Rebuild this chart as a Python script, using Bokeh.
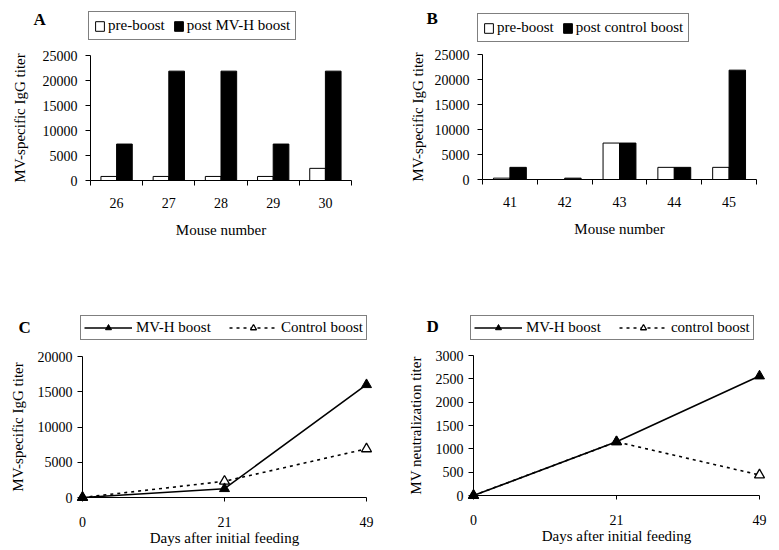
from bokeh.plotting import figure
from bokeh.models import (Range1d, LinearAxis, FixedTicker, SingleIntervalTicker,
                          Legend, LegendItem, Label, ColumnDataSource, NumeralTickFormatter)
from bokeh.layouts import row, column
from bokeh.transform import dodge
from bokeh.embed import file_html
from bokeh.resources import INLINE

FONT = "Liberation Serif"
NAN = float("nan")

# ---- data ----
mice_a = ["26", "27", "28", "29", "30"]
pre_a = [810, 810, 810, 810, 2430]
post_a = [7290, 21870, 21870, 7290, 21870]

mice_b = ["41", "42", "43", "44", "45"]
pre_b = [270, 0, 7290, 2430, 2430]
post_b = [2430, 270, 7290, 2430, 21870]

days = ["0", "21", "49"]
igg_mvh = [0, 1250, 16000]
igg_ctrl = [0, 2300, 6900]
neut_mvh = [0, 1150, 2560]
neut_ctrl = [0, 1150, 440]


def style_y(ax, label, interval):
    ax.ticker = SingleIntervalTicker(interval=interval, num_minor_ticks=0)
    ax.formatter = NumeralTickFormatter(format="0")
    ax.axis_label = label
    ax.axis_line_color = "black"
    ax.major_tick_out = 5
    ax.major_tick_in = 0
    ax.minor_tick_line_color = None
    ax.major_label_text_font = FONT
    ax.major_label_text_font_size = "14px"
    ax.major_label_text_color = "black"
    ax.major_label_standoff = 8
    ax.axis_label_text_font = FONT
    ax.axis_label_text_font_size = "15px"
    ax.axis_label_text_font_style = "normal"
    ax.axis_label_text_color = "black"


def style_x_common(ax, label):
    ax.axis_label = label
    ax.axis_line_color = "black"
    ax.major_label_text_font = FONT
    ax.major_label_text_font_size = "14px"
    ax.major_label_text_color = "black"
    ax.axis_label_text_font = FONT
    ax.axis_label_text_font_size = "15px"
    ax.axis_label_text_font_style = "normal"
    ax.axis_label_text_color = "black"


def base_fig(x_range, y_range, w, h, left, right, top, bottom):
    p = figure(width=w, height=h, x_range=x_range, y_range=y_range,
               output_backend="svg", toolbar_location=None,
               x_axis_location=None, y_axis_location=None,
               min_border_left=left, min_border_right=right,
               min_border_top=top, min_border_bottom=bottom)
    p.frame_align = False
    p.outline_line_color = None
    p.grid.visible = False
    p.background_fill_color = "white"
    p.border_fill_color = "white"
    return p


def header_fig(w, h):
    # pixel-space strip above a panel: holds the panel letter and the legend box
    return base_fig(Range1d(0, w), Range1d(0, h), w, h, 0, 0, 0, 0)


def letter(p, txt, x, y):
    p.add_layout(Label(x=x, y=y, x_units="screen", y_units="screen", text=txt,
                       text_font=FONT, text_font_style="bold", text_font_size="17px",
                       text_baseline="alphabetic", text_color="black"))


def legend_style(leg):
    leg.orientation = "horizontal"
    leg.border_line_color = "black"
    leg.border_line_width = 1
    leg.label_text_font = FONT
    leg.label_text_font_size = "15px"
    leg.label_text_color = "black"
    leg.margin = 0
    leg.background_fill_color = "white"
    leg.background_fill_alpha = 1


def bar_panel(mice, pre, post, post_label, w, hh, h, left, right, top, bottom,
              ylab_standoff, loc, let_xy, let):
    idx = list(range(len(mice)))
    src = ColumnDataSource(dict(idx=idx, mouse=mice, pre=pre, post=post))
    p = base_fig(Range1d(-0.5, len(mice) - 0.5), Range1d(0, 25000), w, h,
                 left, right, top, bottom)
    pre_style = dict(fill_color="white", line_color="black", line_width=1)
    post_style = dict(fill_color="black", line_color="black", line_width=1)
    p.vbar(x=dodge("idx", -0.15), top="pre", width=0.3, source=src, **pre_style)
    p.vbar(x=dodge("idx", 0.15), top="post", width=0.3, source=src, **post_style)
    ya = LinearAxis()
    style_y(ya, "MV-specific IgG titer", 5000)
    ya.axis_label_standoff = ylab_standoff
    p.add_layout(ya, "left")
    xa = LinearAxis(ticker=FixedTicker(ticks=idx,
                                       minor_ticks=[i - 0.5 for i in range(len(mice) + 1)]),
                    major_label_overrides={i: m for i, m in zip(idx, mice)})
    style_x_common(xa, "Mouse number")
    xa.major_tick_out = 0
    xa.major_tick_in = 0
    xa.minor_tick_out = 5
    xa.minor_tick_in = 0
    xa.minor_tick_line_color = "black"
    xa.major_label_standoff = 12
    xa.axis_label_standoff = 11
    p.add_layout(xa, "below")

    hdr = header_fig(w, hh)
    proxy = ColumnDataSource(dict(x=[NAN], top=[NAN]))   # legend-key proxies, nothing drawn
    g_pre = hdr.vbar(x="x", top="top", width=1, source=proxy, **pre_style)
    g_post = hdr.vbar(x="x", top="top", width=1, source=proxy, **post_style)
    leg = Legend(items=[LegendItem(label="pre-boost", renderers=[g_pre]),
                        LegendItem(label=post_label, renderers=[g_post])],
                 location=loc)
    legend_style(leg)
    leg.glyph_width = 11
    leg.glyph_height = 12
    leg.label_height = 15
    leg.padding = 5
    leg.spacing = 8
    leg.label_standoff = 3
    hdr.add_layout(leg, "center")
    letter(hdr, let, *let_xy)
    return hdr, p


def line_panel(y1, y2, ymax, interval, ylabel, ctrl_label, w, hh, h, left, right, top, bottom,
               ylab_standoff, loc, let_xy, let):
    idx = list(range(len(days)))
    src = ColumnDataSource(dict(x=idx, a=y1, b=y2))
    p = base_fig(Range1d(0, len(days) - 1), Range1d(0, ymax), w, h, left, right, top, bottom)
    ctrl_line = dict(line_color="black", line_width=1.6, line_dash="3 4")
    ctrl_mark = dict(marker="triangle", size=10, fill_color="white", line_color="black",
                     line_width=1.3)
    mvh_line = dict(line_color="black", line_width=1.6)
    mvh_mark = dict(marker="triangle", size=10, fill_color="black", line_color="black")
    rs = [p.line(x="x", y="b", source=src, **ctrl_line),
          p.scatter(x="x", y="b", source=src, **ctrl_mark),
          p.line(x="x", y="a", source=src, **mvh_line),
          p.scatter(x="x", y="a", source=src, **mvh_mark)]
    for r in rs:
        r.level = "overlay"
    ya = LinearAxis()
    style_y(ya, ylabel, interval)
    ya.major_label_standoff = 5
    ya.axis_label_standoff = ylab_standoff
    p.add_layout(ya, "left")
    xa = LinearAxis(ticker=FixedTicker(ticks=idx),
                    major_label_overrides={i: d for i, d in zip(idx, days)})
    style_x_common(xa, "Days after initial feeding")
    xa.major_tick_out = 4
    xa.major_tick_in = 0
    xa.minor_tick_line_color = None
    xa.major_label_standoff = 15
    xa.axis_label_standoff = 0
    p.add_layout(xa, "below")

    hdr = header_fig(w, hh)
    proxy = ColumnDataSource(dict(x=[NAN], y=[NAN]))   # legend-key proxies, nothing drawn
    l1 = hdr.line(x="x", y="y", source=proxy, **mvh_line)
    s1 = hdr.scatter(x="x", y="y", source=proxy, **mvh_mark)
    l2 = hdr.line(x="x", y="y", source=proxy, **ctrl_line)
    s2 = hdr.scatter(x="x", y="y", source=proxy, **ctrl_mark)
    leg = Legend(items=[LegendItem(label="MV-H boost", renderers=[l1, s1]),
                        LegendItem(label=ctrl_label, renderers=[l2, s2])],
                 location=loc)
    legend_style(leg)
    leg.glyph_width = 48
    leg.glyph_height = 15
    leg.label_height = 15
    leg.padding = 3
    leg.spacing = 18
    leg.label_standoff = 4
    hdr.add_layout(leg, "center")
    letter(hdr, let, *let_xy)
    return hdr, p


hA, pA = bar_panel(mice_a, pre_a, post_a, "post MV-H boost", 390, 46, 229, 90, 39, 9, 95,
                   12, (88, 6), (33, 27), "A")
hB, pB = bar_panel(mice_b, pre_b, post_b, "post control boost", 387, 46, 229, 92, 21, 8, 96,
                   6, (87, 4), (36, 28), "B")
hC, pC = line_panel(igg_mvh, igg_ctrl, 20000, 5000, "MV-specific IgG titer", "Control boost",
                    390, 70, 203, 82, 24, 11, 51, 9, (80, 5), (18, 18), "C")
hD, pD = line_panel(neut_mvh, neut_ctrl, 3000, 500, "MV neutralization titer", "control boost",
                    387, 70, 203, 83, 18, 10, 53, 9, (80, 5), (36, 19), "D")

layout = row(column(hA, pA, hC, pC), column(hB, pB, hD, pD))
open("out.html", "w").write(file_html(layout, INLINE))
